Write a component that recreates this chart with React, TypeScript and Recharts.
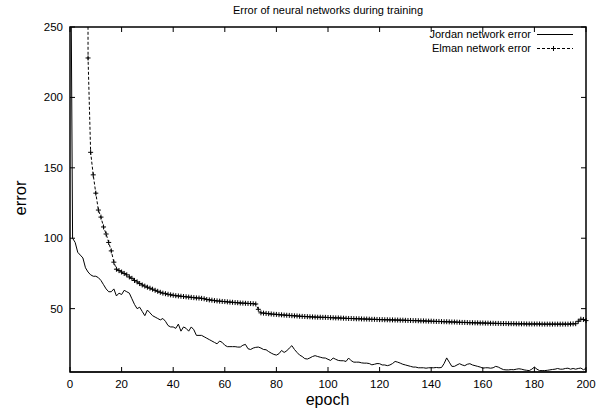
import { LineChart, Line, XAxis, YAxis, ReferenceArea, ReferenceLine } from "recharts";

const epochs = Array.from({ length: 201 }, (_, i) => i);
const xTicks = [0, 20, 40, 60, 80, 100, 120, 140, 160, 180, 200];
const yTicks = [50, 100, 150, 200, 250];

const jordanError = [
  400, 100, 97, 90, 88, 86, 79, 76, 74, 73,
  73, 72, 70, 67, 64, 62, 62, 64, 59, 61,
  60, 63, 62, 61, 57, 53, 50, 51, 48, 45,
  49, 47, 45, 44, 43, 42, 43, 41, 38, 37,
  37, 36, 39, 34, 37, 36, 34, 37, 35, 31,
  31, 31, 30, 29, 28, 27, 26, 25, 27, 26,
  24, 23, 23, 23, 23, 22.7, 22.7, 24, 24.6, 21.5,
  21, 22, 22.5, 22.7, 22, 21, 20.8, 19.5, 18.4, 17.5,
  17, 18, 20.3, 18.9, 20, 22, 23.7, 21, 18.9, 17,
  16, 14.5, 14.2, 15, 16, 16.6, 16, 15.5, 15, 14.9,
  14, 13.2, 14.9, 14, 13.2, 13, 13, 12.5, 14.9, 13,
  12, 12, 12, 11.5, 11.3, 11.3, 11, 10.1, 10.5, 11,
  10.9, 10, 10, 9.5, 10, 11, 12.5, 12, 11.3, 10.5,
  10, 9.5, 9, 8.5, 8.5, 8, 8, 8, 7.7, 8,
  8, 8, 8.2, 8, 8.2, 11, 15, 12, 9, 9,
  10, 10.9, 10, 9.5, 10.5, 10.9, 10, 9.5, 9, 8.5,
  7.7, 8, 8, 7.7, 8, 9, 8.5, 7.5, 6.7, 6.5,
  6.5, 6.7, 6.6, 7, 7.3, 7, 6.5, 6.2, 6, 7,
  8.5, 7, 6, 6, 6, 6.2, 6.5, 6.8, 7, 7.5,
  7, 7, 7.5, 7.7, 7, 7.5, 7, 7.5, 7.8, 6.6,
  7.5,
];

const elmanError = [
  null, null, null, null, null, null, 1500, 228, 161, 145,
  132, 120, 115, 108, 103, 97, 91, 83, 78, 77,
  76, 75, 74, 72.5, 71.5, 70, 69, 67.8, 66.8, 66,
  65.2, 64.5, 63.8, 63, 62.3, 61.6, 61, 60.6, 60.2, 59.8,
  59.5, 59.2, 59, 58.8, 58.6, 58.4, 58.2, 58, 57.8, 57.6,
  57.5, 57.3, 57, 56.5, 56.2, 56, 55.7, 55.5, 55.3, 55.1,
  55, 54.8, 54.6, 54.5, 54.3, 54.2, 54, 53.9, 53.8, 53.7,
  53.6, 53.5, 53.3, 49.5, 47, 46.8, 46.6, 46.4, 46.2, 46,
  45.9, 45.7, 45.6, 45.4, 45.3, 45.2, 45, 44.9, 44.8, 44.6,
  44.5, 44.4, 44.3, 44.2, 44.1, 44, 43.9, 43.9, 43.8, 43.8,
  43.7, 43.6, 43.5, 43.4, 43.4, 43.3, 43.2, 43.1, 43, 43,
  42.9, 42.8, 42.8, 42.7, 42.6, 42.6, 42.5, 42.4, 42.4, 42.3,
  42.2, 42.2, 42.1, 42.1, 42, 42, 41.9, 41.9, 41.8, 41.8,
  41.7, 41.6, 41.6, 41.5, 41.5, 41.4, 41.3, 41.3, 41.2, 41.1,
  41.1, 41, 40.9, 40.9, 40.8, 40.7, 40.7, 40.6, 40.5, 40.5,
  40.4, 40.3, 40.2, 40.2, 40.1, 40, 40, 39.9, 39.9, 39.8,
  39.8, 39.7, 39.7, 39.6, 39.6, 39.5, 39.5, 39.4, 39.4, 39.4,
  39.3, 39.3, 39.3, 39.2, 39.2, 39.2, 39.2, 39.1, 39.1, 39.1,
  39.1, 39.1, 39.1, 39, 39, 39, 39, 39, 39, 39,
  39, 39, 39, 39, 39.1, 39.2, 39.3, 41, 42.5, 42.3,
  41.5,
];

const data = epochs.map((epoch, i) => ({
  epoch,
  jordan: jordanError[i],
  elman: elmanError[i],
}));

const W = 616;
const H = 412;
const PLOT_LEFT = 70;
const PLOT_TOP = 27;
const PLOT_RIGHT = 586;
const PLOT_BOTTOM = 372;
const PLOT_W = PLOT_RIGHT - PLOT_LEFT;
const PLOT_H = PLOT_BOTTOM - PLOT_TOP;
const TICK = 5;

const font = "'Liberation Sans', Arial, Helvetica, sans-serif";

// x tick labels only; the tick marks are drawn as reference lines
const BottomTick = ({ x, y, payload }: any) => (
  <text x={x} y={y + 16} textAnchor="middle" fontSize={11.5} fontFamily={font} fill="#000">
    {payload.value}
  </text>
);

const PlusDot = (props: any) => {
  const { cx, cy, index } = props;
  if (cx == null || cy == null) return <g key={index} />;
  return (
    <path
      key={index}
      d={`M${cx - 2.5},${cy}h5M${cx},${cy - 2.5}v5`}
      stroke="#000"
      strokeWidth={1}
      fill="none"
    />
  );
};

export default function App() {
  return (
    <div style={{ position: "absolute", left: 0, top: 0, width: W, height: H, background: "#fff" }}>
      <LineChart
        width={W}
        height={H}
        data={data}
        margin={{ top: PLOT_TOP, right: W - PLOT_RIGHT, bottom: 0, left: PLOT_LEFT }}
      >
        <XAxis
          dataKey="epoch"
          type="number"
          domain={[0, 200]}
          tickCount={11}
          height={H - PLOT_BOTTOM}
          tickSize={0}
          tickMargin={0}
          tick={<BottomTick />}
          stroke="#000"
        />
        <YAxis type="number" domain={[5, 250]} allowDataOverflow hide />

        {/* gnuplot border */}
        <ReferenceArea
          x1={0}
          x2={200}
          y1={5}
          y2={250}
          fill="none"
          fillOpacity={0}
          stroke="#000"
          strokeWidth={1.5}
          ifOverflow="visible"
        />

        {/* inward ticks, mirrored on the opposite border: dash, long gap, dash */}
        {xTicks.map((t) => (
          <ReferenceLine
            key={`x${t}`}
            x={t}
            stroke="#000"
            strokeWidth={1}
            strokeDasharray={`${TICK} ${PLOT_H - 2 * TICK}`}
          />
        ))}
        {yTicks.map((v) => (
          <ReferenceLine
            key={`y${v}`}
            y={v}
            stroke="#000"
            strokeWidth={1}
            strokeDasharray={`${TICK} ${PLOT_W - 2 * TICK}`}
            label={{ value: String(v), position: "left", offset: 7, fill: "#000", fontSize: 11.5, fontFamily: font }}
          />
        ))}

        <Line
          type="linear"
          dataKey="jordan"
          stroke="#000"
          strokeWidth={1}
          dot={false}
          isAnimationActive={false}
        />
        <Line
          type="linear"
          dataKey="elman"
          stroke="#000"
          strokeWidth={1}
          strokeDasharray="3 2"
          dot={PlusDot}
          isAnimationActive={false}
        />
      </LineChart>
      <svg
        width={W}
        height={H}
        style={{ position: "absolute", left: 0, top: 0, pointerEvents: "none" }}
        fontFamily={font}
      >
        <text x={328} y={14} textAnchor="middle" fontSize={11} fill="#000">
          Error of neural networks during training
        </text>
        <text x={531} y={38} textAnchor="end" fontSize={11} fill="#000">
          Jordan network error
        </text>
        <line x1={537} y1={34.5} x2={573} y2={34.5} stroke="#000" strokeWidth={1} />
        <text x={531} y={52} textAnchor="end" fontSize={11} fill="#000">
          Elman network error
        </text>
        <line x1={537} y1={48.5} x2={573} y2={48.5} stroke="#000" strokeWidth={1} strokeDasharray="3 2" />
        <path d="M551,48.5h5M553.5,46v5" stroke="#000" strokeWidth={1} />
        <text x={327.5} y={404.5} textAnchor="middle" fontSize={16} fill="#000">
          epoch
        </text>
        <text x={0} y={0} transform="translate(26,198) rotate(-90)" textAnchor="middle" fontSize={16.5} fill="#000">
          error
        </text>
      </svg>
    </div>
  );
}
